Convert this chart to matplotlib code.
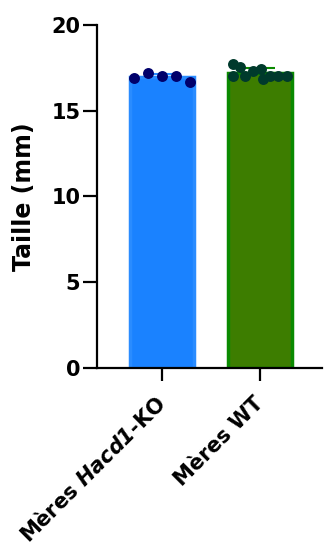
import numpy as np
import matplotlib
matplotlib.use("Agg")
import matplotlib.pyplot as plt

categories = ["Mères $\\mathbfit{Hacd1}$-KO", "Mères WT"]
ko_values = [16.9, 17.2, 17.0, 17.0, 16.7]
wt_values = [17.75, 17.55, 17.0, 17.0, 17.3, 17.45, 16.85, 17.0, 17.05, 17.0]
y_ticks = [0, 5, 10, 15, 20]
y_label = "Taille (mm)"

bar_colors = ["#1a82ff", "#3d7d00"]
edge_colors = ["#2a8cff", "#0a8a00"]
dot_colors = ["#00006b", "#003a2c"]

# horizontal offsets of the dots inside each bar (layout only)
ko_offsets = [-0.286, -0.143, 0.0, 0.143, 0.286]
wt_offsets = [-0.28, -0.20, -0.28, -0.15, -0.07, 0.01, 0.03, 0.10, 0.18, 0.28]

plt.rcParams['mathtext.fontset'] = 'custom'
plt.rcParams['mathtext.bfit'] = 'DejaVu Sans:italic:bold'
plt.rcParams['font.family'] = ['DejaVu Sans']
plt.rcParams['font.weight'] = 'bold'

fig = plt.figure(figsize=(3.25, 5.43), dpi=100)
ax = fig.add_axes([97/325, 1-368/543, (322-97)/325, (368-25)/543])

groups = [ko_values, wt_values]
offsets = [ko_offsets, wt_offsets]
x = np.arange(len(groups))
means = [np.mean(g) for g in groups]
sds = [np.std(g, ddof=1) for g in groups]

width = 0.66
for i, g in enumerate(groups):
    ax.bar(x[i], means[i], width=width, color=bar_colors[i], edgecolor=edge_colors[i],
           linewidth=2.5, zorder=2)
    ax.errorbar(x[i], means[i], yerr=[[0], [sds[i]]], color=edge_colors[i], capsize=11,
                elinewidth=1.5, capthick=1.5, zorder=3)
    ax.scatter(x[i] + np.array(offsets[i]), g, s=62, color=dot_colors[i], zorder=4,
               linewidths=0, clip_on=False)

ax.set_ylim(0, 20)
ax.set_xlim(-0.663, 1.633)
ax.set_yticks(y_ticks)
ax.set_yticklabels([str(t) for t in y_ticks], fontsize=15, fontweight='bold')
ax.set_xticks(x)
ax.set_xticklabels(categories, rotation=45, ha='right', va='center',
                   rotation_mode='anchor', fontsize=15, fontweight='bold')
ax.set_ylabel(y_label, fontsize=17, fontweight='bold', labelpad=11)

for s in ['top', 'right']:
    ax.spines[s].set_visible(False)
for s in ['left', 'bottom']:
    ax.spines[s].set_linewidth(1.6)
ax.tick_params(axis='y', length=10, width=1.6, pad=2)
ax.tick_params(axis='x', length=9, width=1.6, pad=14)

fig.savefig("out.png", dpi=100)
